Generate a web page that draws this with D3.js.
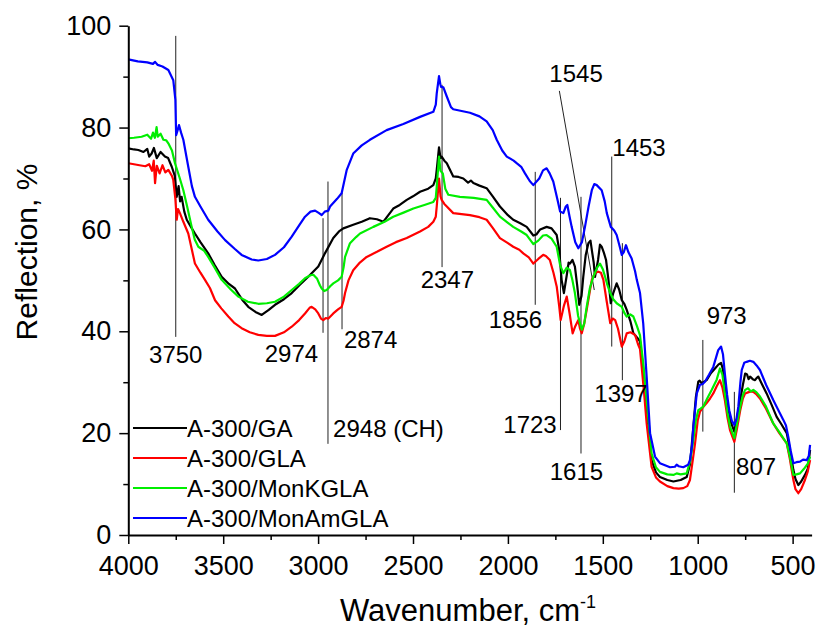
<!DOCTYPE html>
<html>
<head>
<meta charset="utf-8">
<script src="https://cdn.jsdelivr.net/npm/d3@7"></script>
<style>
  body { margin: 0; background: #fff; }
  svg { display: block; font-family: "Liberation Sans", Arial, sans-serif; }
</style>
</head>
<body>
<script>
// spectra: [wavenumber, reflection %]
const seriesGA = [[4000,75.9],[3970,75.7],[3947,75.6],[3920,75.2],[3900,75.8],[3890,74.3],[3877,74.9],[3865,76.0],[3850,74.0],[3830,75.2],[3807,74.3],[3790,74.0],[3771,72.3],[3755,70.5],[3745,66.4],[3735,68.5],[3727,65.5],[3719,66.4],[3705,63.5],[3692,61.9],[3670,60.5],[3649,59.2],[3620,57.5],[3579,55.3],[3545,53.0],[3508,50.7],[3470,49.3],[3438,48.4],[3400,46.2],[3368,44.8],[3330,43.8],[3297,43.2],[3260,44.2],[3227,45.2],[3180,46.3],[3139,47.5],[3100,49.0],[3052,50.7],[2999,52.7],[2964,55.3],[2920,58.3],[2890,59.6],[2867,60.2],[2815,60.9],[2770,61.5],[2727,62.2],[2690,62.0],[2656,61.5],[2630,62.8],[2604,64.1],[2570,64.8],[2533,65.8],[2500,66.5],[2463,67.4],[2420,68.0],[2393,68.7],[2380,70.0],[2375,71.7],[2363,76.1],[2355,74.0],[2349,74.3],[2335,73.5],[2322,73.0],[2288,70.4],[2260,70.3],[2235,70.0],[2210,69.2],[2195,69.6],[2182,69.1],[2150,68.6],[2112,68.1],[2080,66.5],[2042,64.5],[2000,62.8],[1972,61.9],[1935,61.2],[1901,60.5],[1866,58.8],[1850,59.0],[1830,60.0],[1796,60.5],[1770,60.2],[1743,58.9],[1730,56.0],[1717,50.1],[1705,47.5],[1690,51.0],[1680,53.5],[1673,53.3],[1660,54.0],[1647,52.7],[1635,49.0],[1624,45.2],[1612,47.0],[1603,50.7],[1590,55.0],[1576,57.3],[1565,57.8],[1558,56.0],[1548,53.5],[1541,50.7],[1525,54.0],[1515,57.0],[1506,56.6],[1495,55.5],[1483,54.0],[1470,50.0],[1458,45.5],[1445,47.5],[1427,49.4],[1414,48.2],[1400,46.1],[1387,45.4],[1374,44.2],[1355,42.0],[1339,39.6],[1320,38.8],[1304,38.0],[1285,32.0],[1269,24.5],[1243,14.7],[1220,12.3],[1199,11.4],[1160,10.8],[1128,10.5],[1090,10.8],[1058,11.4],[1040,14.0],[1023,21.3],[1010,27.0],[997,30.1],[990,30.3],[979,29.8],[953,30.4],[930,31.8],[909,32.7],[890,33.5],[877,33.8],[867,32.5],[857,29.1],[845,25.5],[830,22.6],[807,20.3],[795,22.5],[776,26.5],[762,29.5],[750,31.7],[740,31.5],[732,30.6],[724,31.1],[710,30.6],[698,30.4],[690,30.8],[681,31.1],[660,29.5],[637,27.8],[610,25.5],[584,23.2],[560,21.8],[531,20.0],[515,17.0],[496,12.8],[485,11.0],[470,9.8],[455,10.5],[435,11.8],[420,13.0],[408,16.7]];

const seriesGLA = [[4000,73.0],[3970,72.8],[3941,72.6],[3910,72.4],[3890,72.8],[3875,71.5],[3866,73.5],[3859,69.1],[3850,72.5],[3835,71.0],[3820,72.6],[3805,71.2],[3789,71.7],[3770,70.5],[3763,69.7],[3752,66.0],[3745,61.9],[3738,64.0],[3728,63.2],[3710,61.5],[3684,59.2],[3665,56.0],[3649,53.3],[3620,51.5],[3596,50.1],[3570,48.5],[3543,46.1],[3510,44.5],[3473,42.9],[3440,41.6],[3403,40.6],[3360,39.8],[3315,39.3],[3270,39.1],[3227,39.1],[3180,39.8],[3139,40.9],[3100,42.2],[3069,43.5],[3045,44.6],[3034,44.8],[3015,44.3],[2999,43.5],[2985,42.5],[2973,42.2],[2960,42.6],[2946,42.5],[2920,43.5],[2895,44.3],[2876,44.8],[2866,46.0],[2858,47.5],[2840,50.0],[2815,52.0],[2780,53.5],[2744,54.6],[2690,55.6],[2639,56.6],[2590,57.5],[2533,58.3],[2463,59.6],[2420,60.5],[2393,61.5],[2380,62.5],[2375,64.5],[2363,70.0],[2355,66.5],[2349,65.8],[2335,65.0],[2322,64.5],[2288,63.2],[2200,62.8],[2150,62.4],[2112,61.9],[2080,60.3],[2042,58.3],[2000,57.3],[1972,56.6],[1940,56.0],[1919,55.3],[1890,54.5],[1866,53.3],[1840,54.2],[1814,55.0],[1800,54.8],[1779,54.0],[1760,51.5],[1743,48.8],[1730,45.0],[1722,42.2],[1705,45.0],[1690,46.8],[1675,43.5],[1659,39.6],[1645,41.0],[1629,42.2],[1620,40.5],[1611,39.6],[1598,41.5],[1585,44.2],[1570,47.5],[1558,50.1],[1540,51.5],[1523,51.7],[1510,51.5],[1497,50.1],[1480,46.0],[1461,41.6],[1448,42.5],[1435,42.2],[1420,40.5],[1400,37.0],[1387,38.0],[1374,39.6],[1355,39.8],[1330,39.3],[1315,37.5],[1304,36.5],[1285,29.0],[1269,21.9],[1243,13.4],[1220,11.3],[1199,10.5],[1160,9.6],[1128,9.2],[1100,9.1],[1076,9.2],[1055,9.6],[1041,10.8],[1025,15.0],[1014,18.0],[1000,22.5],[988,24.2],[970,25.2],[953,25.9],[935,26.8],[918,27.8],[900,29.2],[883,30.4],[870,29.0],[857,26.5],[843,23.0],[830,20.6],[807,18.3],[795,20.5],[776,24.5],[762,26.8],[750,27.8],[735,28.0],[720,28.2],[707,28.1],[690,27.6],[672,26.8],[640,24.8],[602,21.9],[570,20.0],[531,18.0],[515,15.0],[496,10.8],[485,9.0],[470,8.2],[455,9.0],[435,10.8],[420,12.5],[408,14.7]];

const seriesMonK = [[4000,77.9],[3970,78.0],[3930,78.2],[3900,78.6],[3880,77.8],[3870,79.0],[3860,78.0],[3851,80.1],[3845,78.2],[3830,78.8],[3815,77.6],[3800,77.5],[3789,76.9],[3770,75.5],[3754,73.0],[3730,70.2],[3710,67.7],[3690,64.5],[3666,60.5],[3650,58.0],[3631,56.6],[3600,55.8],[3579,54.6],[3545,52.5],[3508,50.1],[3460,48.2],[3420,46.8],[3370,45.8],[3315,45.4],[3270,45.5],[3227,45.8],[3180,46.8],[3139,48.1],[3100,49.3],[3069,50.4],[3040,51.0],[3025,51.1],[3005,50.3],[2990,49.0],[2981,48.4],[2968,47.9],[2955,48.1],[2935,48.9],[2920,49.4],[2895,50.0],[2876,50.7],[2866,52.5],[2858,54.6],[2832,57.3],[2800,58.5],[2779,59.2],[2709,60.5],[2650,61.5],[2604,62.5],[2550,63.3],[2498,64.1],[2440,64.8],[2393,65.4],[2380,66.2],[2375,68.4],[2363,74.3],[2355,71.5],[2343,71.0],[2330,68.0],[2314,66.8],[2253,66.4],[2180,66.2],[2112,65.8],[2080,64.3],[2042,62.5],[2000,61.3],[1972,60.5],[1930,59.6],[1901,58.9],[1866,57.1],[1840,57.8],[1815,58.8],[1796,58.9],[1770,58.2],[1743,56.6],[1725,53.0],[1708,51.4],[1690,52.5],[1673,52.0],[1660,50.0],[1647,47.5],[1630,43.0],[1611,40.3],[1598,41.5],[1585,44.8],[1568,48.5],[1550,50.7],[1530,52.5],[1515,53.3],[1500,52.2],[1488,50.7],[1475,49.0],[1461,47.5],[1445,46.3],[1427,45.5],[1400,44.8],[1385,43.5],[1374,42.9],[1355,43.3],[1339,42.9],[1320,41.0],[1304,39.2],[1285,33.0],[1269,26.5],[1243,16.0],[1220,13.3],[1199,12.4],[1160,11.9],[1128,11.8],[1111,12.1],[1090,11.9],[1058,12.1],[1040,14.5],[1023,18.7],[1010,22.5],[997,24.5],[985,24.8],[971,25.2],[950,26.8],[926,28.5],[900,30.5],[883,32.7],[870,31.5],[857,27.8],[843,24.0],[830,21.3],[807,19.0],[795,21.5],[776,25.2],[762,27.5],[750,28.5],[735,28.8],[720,28.2],[707,28.5],[690,28.0],[672,27.2],[640,25.2],[602,21.9],[570,20.2],[531,18.0],[515,15.5],[496,11.8],[480,11.9],[461,12.1],[440,13.0],[420,14.0],[408,15.4]];

const seriesMonAm = [[4000,93.4],[3950,93.0],[3900,92.8],[3870,92.5],[3859,92.9],[3845,92.3],[3820,92.0],[3789,91.3],[3763,89.3],[3752,85.5],[3748,78.5],[3740,79.5],[3733,80.5],[3722,79.0],[3710,77.6],[3684,72.3],[3665,68.5],[3649,66.4],[3620,64.5],[3579,61.9],[3530,59.6],[3490,57.9],[3440,56.2],[3403,55.0],[3350,54.1],[3315,53.9],[3270,54.2],[3227,55.0],[3180,56.5],[3139,58.6],[3100,60.8],[3069,62.5],[3040,63.5],[3016,63.7],[2995,63.2],[2981,62.8],[2965,63.5],[2946,63.7],[2937,64.5],[2900,66.0],[2876,67.1],[2862,69.5],[2849,71.7],[2815,74.9],[2770,76.5],[2727,77.6],[2639,79.5],[2551,80.7],[2463,82.1],[2393,83.1],[2380,84.5],[2375,86.7],[2363,90.1],[2356,88.5],[2352,88.0],[2340,87.9],[2322,86.1],[2300,84.0],[2288,83.6],[2200,82.9],[2150,82.2],[2112,81.2],[2080,79.5],[2059,77.6],[2030,75.5],[2006,74.3],[1970,73.5],[1954,73.0],[1930,72.3],[1910,71.0],[1885,69.5],[1866,68.7],[1835,70.0],[1815,71.6],[1796,72.0],[1780,71.0],[1761,69.4],[1740,66.0],[1725,63.5],[1708,63.2],[1695,64.5],[1687,64.8],[1675,62.5],[1664,60.5],[1645,57.5],[1629,56.3],[1610,57.5],[1594,60.5],[1575,64.5],[1558,67.7],[1545,68.9],[1532,68.7],[1506,67.7],[1490,65.5],[1479,63.2],[1458,60.5],[1440,59.8],[1427,58.9],[1410,56.5],[1400,55.0],[1390,55.5],[1378,56.9],[1365,55.5],[1348,54.3],[1330,51.8],[1321,50.1],[1304,47.5],[1287,41.5],[1269,31.1],[1251,20.0],[1225,15.4],[1199,14.1],[1146,13.3],[1120,13.4],[1111,13.8],[1100,13.5],[1076,13.3],[1050,13.8],[1041,14.7],[1030,17.5],[1023,21.3],[1005,27.8],[988,29.5],[975,29.6],[962,30.1],[940,31.5],[918,33.0],[892,36.3],[877,37.0],[867,35.5],[857,31.7],[845,27.5],[834,24.5],[820,22.4],[807,21.6],[796,22.8],[786,25.2],[775,30.0],[768,32.4],[755,33.8],[742,34.0],[725,34.2],[707,34.0],[690,33.3],[672,32.4],[640,29.5],[602,26.5],[575,24.5],[549,22.6],[535,21.5],[523,19.3],[510,16.5],[496,14.1],[480,14.3],[461,14.4],[445,14.8],[426,14.7],[415,15.5],[408,17.7]];

const seriesNames = ["A-300/GA", "A-300/GLA", "A-300/MonKGLA", "A-300/MonAmGLA"];
const seriesColors = ["#000000", "#ff0000", "#00ee00", "#0000ff"];

const xMajorTicks = [4000, 3500, 3000, 2500, 2000, 1500, 1000, 500];
const xMinorTicks = [3750, 3250, 2750, 2250, 1750, 1250, 750];
const yMajorTicks = [0, 20, 40, 60, 80, 100];
const yMinorTicks = [10, 30, 50, 70, 90];

// peak marks: wavenumber, top and bottom of the marker line (in %)
const peakWn  = [3750, 2974, 2948, 2874, 2347, 1856, 1723, 1615, 1453, 1397, 973, 807];
const peakTop = [98.0, 62.2, 69.4, 67.2, 88.4, 71.3, 66.2, 66.4, 74.3, 57.3, 38.3, 28.1];
const peakBot = [38.9, 39.7, 17.9, 40.4, 52.6, 45.2, 20.6, 16.0, 37.0, 30.4, 20.3, 8.3];
// labels: text, anchor wavenumber, baseline (%), text-anchor
const labelText   = ["3750", "2974", "2948 (CH)", "2874", "2347", "1856", "1723", "1615", "1545", "1453", "1397", "973", "807"];
const labelWn     = [3750, 3000, 2921, 2864, 2319, 1960, 1743, 1639, 1641, 1450, 1404, 953, 798];
const labelY      = [33.8, 34.0, 19.2, 36.8, 48.5, 40.6, 20.1, 10.8, 88.9, 74.5, 26.2, 41.4, 11.8];
const labelAnchor = ["middle", "end", "start", "start", "middle", "middle", "end", "middle", "middle", "start", "middle", "start", "start"];
// slanted leader for 1545
const leader1545 = [[1729, 87.2], [1545, 48.1]];

const W = 819, H = 631;
const svg = d3.select("body").append("svg")
    .attr("width", W)
    .attr("height", H);

svg.append("rect").attr("width", W).attr("height", H).attr("fill", "#fff");

const x = d3.scaleLinear().domain([4000, 400]).range([128.3, 811.6]);
const y = d3.scaleLinear().domain([0, 100]).range([535, 25.7]);

// marker lines under the curves
svg.append("g").selectAll("line")
    .data(peakWn)
    .enter()
    .append("line")
    .attr("x1", d => x(d))
    .attr("x2", d => x(d))
    .attr("y1", (d, i) => y(peakTop[i]))
    .attr("y2", (d, i) => y(peakBot[i]))
    .attr("stroke", "#222")
    .attr("stroke-width", 1);

svg.append("line")
    .attr("x1", x(leader1545[0][0]))
    .attr("y1", y(leader1545[0][1]))
    .attr("x2", x(leader1545[1][0]))
    .attr("y2", y(leader1545[1][1]))
    .attr("stroke", "#222")
    .attr("stroke-width", 1);

const line = d3.line()
    .x(d => x(d[0]))
    .y(d => y(d[1]));

const allSeries = [seriesGA, seriesGLA, seriesMonK, seriesMonAm];
svg.append("g").selectAll("path")
    .data(allSeries)
    .enter()
    .append("path")
    .attr("d", line)
    .attr("fill", "none")
    .attr("stroke", (d, i) => seriesColors[i])
    .attr("stroke-width", 2.2)
    .attr("stroke-linejoin", "round");

// peak labels
svg.append("g").selectAll("text")
    .data(labelText)
    .enter()
    .append("text")
    .attr("x", (d, i) => x(labelWn[i]))
    .attr("y", (d, i) => y(labelY[i]))
    .attr("text-anchor", (d, i) => labelAnchor[i])
    .attr("font-size", 24)
    .attr("fill", "#000")
    .text(d => d);

// axes
const xAxis = svg.append("g")
    .attr("transform", "translate(0," + y(0) + ")")
    .call(d3.axisBottom(x).tickValues(xMajorTicks).tickSize(9).tickSizeOuter(0).tickPadding(12).tickFormat(d3.format("d")));
svg.append("g")
    .attr("transform", "translate(0," + y(0) + ")")
    .call(d3.axisBottom(x).tickValues(xMinorTicks).tickSize(5).tickSizeOuter(0).tickFormat(""))
    .select(".domain").remove();

const yAxis = svg.append("g")
    .attr("transform", "translate(" + x(4000) + ",0)")
    .call(d3.axisLeft(y).tickValues(yMajorTicks).tickSize(9).tickSizeOuter(0).tickPadding(8).tickFormat(d3.format("d")));
svg.append("g")
    .attr("transform", "translate(" + x(4000) + ",0)")
    .call(d3.axisLeft(y).tickValues(yMinorTicks).tickSize(5).tickSizeOuter(0).tickFormat(""))
    .select(".domain").remove();

svg.selectAll(".domain").attr("stroke", "#000").attr("stroke-width", 2);
svg.selectAll(".tick line").attr("stroke", "#000").attr("stroke-width", 1.5);
xAxis.selectAll(".tick text").attr("font-size", 27).attr("font-family", "Liberation Sans, Arial").attr("fill", "#000");
yAxis.selectAll(".tick text").attr("font-size", 27).attr("font-family", "Liberation Sans, Arial").attr("fill", "#000");

// axis titles
svg.append("text")
    .attr("transform", "translate(37,252) rotate(-90)")
    .attr("text-anchor", "middle")
    .attr("font-size", 30)
    .text("Reflection, %");

const xt = svg.append("text")
    .attr("x", 340)
    .attr("y", 621)
    .attr("text-anchor", "start")
    .attr("font-size", 31);
xt.append("tspan").text("Wavenumber, cm");
xt.append("tspan").attr("dy", -13).attr("font-size", 18).text("-1");

// legend
const legend = svg.append("g").selectAll("g")
    .data(seriesNames)
    .enter()
    .append("g")
    .attr("transform", (d, i) => "translate(133," + (428 + i * 30) + ")");
legend.append("line")
    .attr("x1", 0).attr("x2", 54)
    .attr("stroke", (d, i) => seriesColors[i])
    .attr("stroke-width", 2.2);
legend.append("text")
    .attr("x", 54)
    .attr("dy", "0.36em")
    .attr("font-size", 24)
    .text(d => d);
</script>
</body>
</html>
